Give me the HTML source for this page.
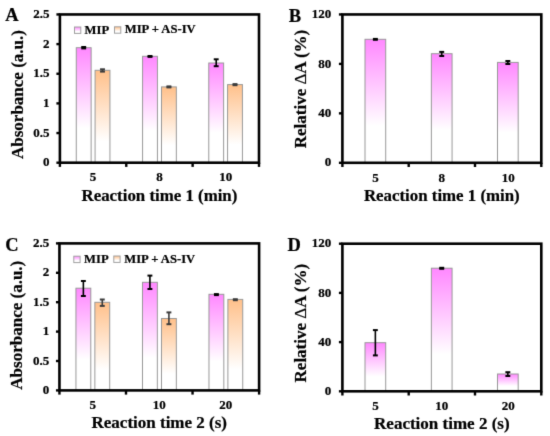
<!DOCTYPE html>
<html><head><meta charset="utf-8"><style>
html,body{margin:0;padding:0;background:#fff;}
svg{display:block;}
#w{width:550px;height:436px;overflow:hidden;will-change:transform;}
text{stroke:#000;stroke-width:0.22px;font-family:'Liberation Serif', serif;font-weight:bold;fill:#000;}
</style></head><body><div id="w">
<svg width="550" height="436" viewBox="0 0 550 436">
<defs>
<filter id="bl" x="0" y="0" width="1" height="1" color-interpolation-filters="sRGB"><feConvolveMatrix order="3" kernelMatrix="0.01134 0.08382 0.01134 0.08382 0.61935 0.08382 0.01134 0.08382 0.01134" edgeMode="duplicate" preserveAlpha="false"/></filter>
<linearGradient id="gP" x1="0" y1="0" x2="0" y2="1"><stop offset="0" stop-color="#ff88ff"/><stop offset="0.7" stop-color="#ffffff"/></linearGradient>
<linearGradient id="gO" x1="0" y1="0" x2="0" y2="1"><stop offset="0" stop-color="#ffc08a"/><stop offset="0.77" stop-color="#ffffff"/></linearGradient>
<linearGradient id="gPL" x1="0" y1="0" x2="0" y2="1"><stop offset="0" stop-color="#ff88ff"/><stop offset="0.7" stop-color="#ffffff"/></linearGradient>
<linearGradient id="gOL" x1="0" y1="0" x2="0" y2="1"><stop offset="0" stop-color="#ffc08a"/><stop offset="0.7" stop-color="#ffffff"/></linearGradient>
</defs>
<g filter="url(#bl)"><rect x="0" y="0" width="550" height="436" fill="#fff"/>
<rect x="76.28" y="47.70" width="14.85" height="115.00" fill="url(#gP)" stroke="#999999" stroke-width="1"/>
<rect x="95.08" y="70.30" width="14.85" height="92.40" fill="url(#gO)" stroke="#999999" stroke-width="1"/>
<rect x="142.57" y="56.30" width="14.85" height="106.40" fill="url(#gP)" stroke="#999999" stroke-width="1"/>
<rect x="161.49" y="86.90" width="14.85" height="75.80" fill="url(#gO)" stroke="#999999" stroke-width="1"/>
<rect x="208.77" y="63.00" width="14.85" height="99.70" fill="url(#gP)" stroke="#999999" stroke-width="1"/>
<rect x="227.57" y="84.60" width="14.85" height="78.10" fill="url(#gO)" stroke="#999999" stroke-width="1"/>
<line x1="83.70" y1="47.00" x2="83.70" y2="48.40" stroke="#000" stroke-width="1.6"/>
<line x1="81.25" y1="47.00" x2="86.15" y2="47.00" stroke="#000" stroke-width="2.0"/>
<line x1="81.25" y1="48.40" x2="86.15" y2="48.40" stroke="#000" stroke-width="2.0"/>
<line x1="102.50" y1="69.30" x2="102.50" y2="71.60" stroke="#3c3c3c" stroke-width="1.6"/>
<line x1="100.05" y1="69.30" x2="104.95" y2="69.30" stroke="#3c3c3c" stroke-width="2.0"/>
<line x1="100.05" y1="71.60" x2="104.95" y2="71.60" stroke="#3c3c3c" stroke-width="2.0"/>
<line x1="150.00" y1="56.00" x2="150.00" y2="56.90" stroke="#000" stroke-width="1.6"/>
<line x1="147.55" y1="56.00" x2="152.45" y2="56.00" stroke="#000" stroke-width="2.0"/>
<line x1="147.55" y1="56.90" x2="152.45" y2="56.90" stroke="#000" stroke-width="2.0"/>
<line x1="168.92" y1="86.40" x2="168.92" y2="87.40" stroke="#3c3c3c" stroke-width="1.6"/>
<line x1="166.47" y1="86.40" x2="171.37" y2="86.40" stroke="#3c3c3c" stroke-width="2.0"/>
<line x1="166.47" y1="87.40" x2="171.37" y2="87.40" stroke="#3c3c3c" stroke-width="2.0"/>
<line x1="216.20" y1="59.30" x2="216.20" y2="66.20" stroke="#000" stroke-width="1.6"/>
<line x1="213.75" y1="59.30" x2="218.65" y2="59.30" stroke="#000" stroke-width="2.0"/>
<line x1="213.75" y1="66.20" x2="218.65" y2="66.20" stroke="#000" stroke-width="2.0"/>
<line x1="235.00" y1="84.10" x2="235.00" y2="85.20" stroke="#3c3c3c" stroke-width="1.6"/>
<line x1="232.55" y1="84.10" x2="237.45" y2="84.10" stroke="#3c3c3c" stroke-width="2.0"/>
<line x1="232.55" y1="85.20" x2="237.45" y2="85.20" stroke="#3c3c3c" stroke-width="2.0"/>
<rect x="59.90" y="14.45" width="199.10" height="148.25" fill="none" stroke="#000" stroke-width="2.6"/>
<line x1="56.40" y1="162.70" x2="59.90" y2="162.70" stroke="#000" stroke-width="2.4"/>
<text x="49.60" y="166.30" font-size="13" text-anchor="end" >0</text>
<line x1="56.40" y1="133.05" x2="59.90" y2="133.05" stroke="#000" stroke-width="2.4"/>
<text x="49.60" y="136.65" font-size="13" text-anchor="end" >0.5</text>
<line x1="56.40" y1="103.40" x2="59.90" y2="103.40" stroke="#000" stroke-width="2.4"/>
<text x="49.60" y="107.00" font-size="13" text-anchor="end" >1</text>
<line x1="56.40" y1="73.75" x2="59.90" y2="73.75" stroke="#000" stroke-width="2.4"/>
<text x="49.60" y="77.35" font-size="13" text-anchor="end" >1.5</text>
<line x1="56.40" y1="44.10" x2="59.90" y2="44.10" stroke="#000" stroke-width="2.4"/>
<text x="49.60" y="47.70" font-size="13" text-anchor="end" >2</text>
<line x1="56.40" y1="14.45" x2="59.90" y2="14.45" stroke="#000" stroke-width="2.4"/>
<text x="49.60" y="18.05" font-size="13" text-anchor="end" >2.5</text>
<line x1="59.90" y1="162.70" x2="59.90" y2="166.90" stroke="#000" stroke-width="2.4"/>
<line x1="126.27" y1="162.70" x2="126.27" y2="166.90" stroke="#000" stroke-width="2.4"/>
<line x1="192.63" y1="162.70" x2="192.63" y2="166.90" stroke="#000" stroke-width="2.4"/>
<line x1="259.00" y1="162.70" x2="259.00" y2="166.90" stroke="#000" stroke-width="2.4"/>
<text x="93.08" y="181.30" font-size="13" text-anchor="middle" >5</text>
<text x="159.45" y="181.30" font-size="13" text-anchor="middle" >8</text>
<text x="225.82" y="181.30" font-size="13" text-anchor="middle" >10</text>
<text x="159.45" y="200.70" font-size="16.85" text-anchor="middle" >Reaction time 1 (min)</text>
<text transform="translate(22.50,94.55) rotate(-90)" x="0" y="0" font-size="17" text-anchor="middle">Absorbance (a.u.)</text>
<text x="5.20" y="21.20" font-size="18.5" text-anchor="start" >A</text>
<rect x="74.50" y="27.00" width="6.3" height="6.4" fill="url(#gPL)" stroke="#a0a0a0" stroke-width="1"/>
<text x="84.60" y="33.50" font-size="12.6" text-anchor="start" >MIP</text>
<rect x="114.50" y="26.80" width="6.3" height="6.4" fill="url(#gOL)" stroke="#a0a0a0" stroke-width="1"/>
<text x="124.80" y="33.30" font-size="12.6" text-anchor="start" >MIP + AS-IV</text>
<rect x="365.01" y="39.30" width="20.70" height="123.50" fill="url(#gP)" stroke="#999999" stroke-width="1"/>
<rect x="431.37" y="53.70" width="20.70" height="109.10" fill="url(#gP)" stroke="#999999" stroke-width="1"/>
<rect x="497.49" y="62.40" width="20.70" height="100.40" fill="url(#gP)" stroke="#999999" stroke-width="1"/>
<line x1="375.36" y1="38.90" x2="375.36" y2="39.80" stroke="#000" stroke-width="1.6"/>
<line x1="372.91" y1="38.90" x2="377.81" y2="38.90" stroke="#000" stroke-width="2.0"/>
<line x1="372.91" y1="39.80" x2="377.81" y2="39.80" stroke="#000" stroke-width="2.0"/>
<line x1="441.72" y1="51.90" x2="441.72" y2="56.00" stroke="#000" stroke-width="1.6"/>
<line x1="439.27" y1="51.90" x2="444.17" y2="51.90" stroke="#000" stroke-width="2.0"/>
<line x1="439.27" y1="56.00" x2="444.17" y2="56.00" stroke="#000" stroke-width="2.0"/>
<line x1="507.84" y1="61.00" x2="507.84" y2="64.00" stroke="#000" stroke-width="1.6"/>
<line x1="505.39" y1="61.00" x2="510.29" y2="61.00" stroke="#000" stroke-width="2.0"/>
<line x1="505.39" y1="64.00" x2="510.29" y2="64.00" stroke="#000" stroke-width="2.0"/>
<rect x="342.40" y="14.45" width="198.90" height="148.35" fill="none" stroke="#000" stroke-width="2.6"/>
<line x1="338.90" y1="162.80" x2="342.40" y2="162.80" stroke="#000" stroke-width="2.4"/>
<text x="331.20" y="166.40" font-size="13" text-anchor="end" >0</text>
<line x1="338.90" y1="113.35" x2="342.40" y2="113.35" stroke="#000" stroke-width="2.4"/>
<text x="331.20" y="116.95" font-size="13" text-anchor="end" >40</text>
<line x1="338.90" y1="63.90" x2="342.40" y2="63.90" stroke="#000" stroke-width="2.4"/>
<text x="331.20" y="67.50" font-size="13" text-anchor="end" >80</text>
<line x1="338.90" y1="14.45" x2="342.40" y2="14.45" stroke="#000" stroke-width="2.4"/>
<text x="331.20" y="18.05" font-size="13" text-anchor="end" >120</text>
<line x1="342.40" y1="162.80" x2="342.40" y2="167.00" stroke="#000" stroke-width="2.4"/>
<line x1="408.70" y1="162.80" x2="408.70" y2="167.00" stroke="#000" stroke-width="2.4"/>
<line x1="475.00" y1="162.80" x2="475.00" y2="167.00" stroke="#000" stroke-width="2.4"/>
<line x1="541.30" y1="162.80" x2="541.30" y2="167.00" stroke="#000" stroke-width="2.4"/>
<text x="375.55" y="181.80" font-size="13" text-anchor="middle" >5</text>
<text x="441.85" y="181.80" font-size="13" text-anchor="middle" >8</text>
<text x="508.15" y="181.80" font-size="13" text-anchor="middle" >10</text>
<text x="441.85" y="200.90" font-size="16.85" text-anchor="middle" >Reaction time 1 (min)</text>
<text transform="translate(305.60,89.00) rotate(-90)" x="0" y="0" font-size="17" text-anchor="middle">Relative <tspan font-weight="normal" stroke-width="0.2">Δ</tspan>A (%)</text>
<text x="288.80" y="22.20" font-size="18.5" text-anchor="start" >B</text>
<rect x="75.94" y="288.20" width="14.85" height="102.20" fill="url(#gP)" stroke="#999999" stroke-width="1"/>
<rect x="94.86" y="302.30" width="14.85" height="88.10" fill="url(#gO)" stroke="#999999" stroke-width="1"/>
<rect x="142.49" y="282.30" width="14.85" height="108.10" fill="url(#gP)" stroke="#999999" stroke-width="1"/>
<rect x="161.49" y="318.50" width="14.85" height="71.90" fill="url(#gO)" stroke="#999999" stroke-width="1"/>
<rect x="208.97" y="294.30" width="14.85" height="96.10" fill="url(#gP)" stroke="#999999" stroke-width="1"/>
<rect x="227.89" y="299.40" width="14.85" height="91.00" fill="url(#gO)" stroke="#999999" stroke-width="1"/>
<line x1="83.36" y1="281.00" x2="83.36" y2="296.00" stroke="#000" stroke-width="1.6"/>
<line x1="80.91" y1="281.00" x2="85.81" y2="281.00" stroke="#000" stroke-width="2.0"/>
<line x1="80.91" y1="296.00" x2="85.81" y2="296.00" stroke="#000" stroke-width="2.0"/>
<line x1="102.28" y1="299.50" x2="102.28" y2="305.90" stroke="#3c3c3c" stroke-width="1.6"/>
<line x1="99.83" y1="299.50" x2="104.73" y2="299.50" stroke="#3c3c3c" stroke-width="2.0"/>
<line x1="99.83" y1="305.90" x2="104.73" y2="305.90" stroke="#3c3c3c" stroke-width="2.0"/>
<line x1="149.92" y1="275.60" x2="149.92" y2="289.00" stroke="#000" stroke-width="1.6"/>
<line x1="147.47" y1="275.60" x2="152.37" y2="275.60" stroke="#000" stroke-width="2.0"/>
<line x1="147.47" y1="289.00" x2="152.37" y2="289.00" stroke="#000" stroke-width="2.0"/>
<line x1="168.92" y1="312.40" x2="168.92" y2="324.20" stroke="#3c3c3c" stroke-width="1.6"/>
<line x1="166.47" y1="312.40" x2="171.37" y2="312.40" stroke="#3c3c3c" stroke-width="2.0"/>
<line x1="166.47" y1="324.20" x2="171.37" y2="324.20" stroke="#3c3c3c" stroke-width="2.0"/>
<line x1="216.40" y1="294.10" x2="216.40" y2="295.10" stroke="#000" stroke-width="1.6"/>
<line x1="213.95" y1="294.10" x2="218.85" y2="294.10" stroke="#000" stroke-width="2.0"/>
<line x1="213.95" y1="295.10" x2="218.85" y2="295.10" stroke="#000" stroke-width="2.0"/>
<line x1="235.32" y1="299.20" x2="235.32" y2="300.20" stroke="#3c3c3c" stroke-width="1.6"/>
<line x1="232.87" y1="299.20" x2="237.77" y2="299.20" stroke="#3c3c3c" stroke-width="2.0"/>
<line x1="232.87" y1="300.20" x2="237.77" y2="300.20" stroke="#3c3c3c" stroke-width="2.0"/>
<rect x="59.45" y="243.40" width="199.65" height="147.00" fill="none" stroke="#000" stroke-width="2.6"/>
<line x1="55.95" y1="390.40" x2="59.45" y2="390.40" stroke="#000" stroke-width="2.4"/>
<text x="49.30" y="394.00" font-size="13" text-anchor="end" >0</text>
<line x1="55.95" y1="361.00" x2="59.45" y2="361.00" stroke="#000" stroke-width="2.4"/>
<text x="49.30" y="364.60" font-size="13" text-anchor="end" >0.5</text>
<line x1="55.95" y1="331.60" x2="59.45" y2="331.60" stroke="#000" stroke-width="2.4"/>
<text x="49.30" y="335.20" font-size="13" text-anchor="end" >1</text>
<line x1="55.95" y1="302.20" x2="59.45" y2="302.20" stroke="#000" stroke-width="2.4"/>
<text x="49.30" y="305.80" font-size="13" text-anchor="end" >1.5</text>
<line x1="55.95" y1="272.80" x2="59.45" y2="272.80" stroke="#000" stroke-width="2.4"/>
<text x="49.30" y="276.40" font-size="13" text-anchor="end" >2</text>
<line x1="55.95" y1="243.40" x2="59.45" y2="243.40" stroke="#000" stroke-width="2.4"/>
<text x="49.30" y="247.00" font-size="13" text-anchor="end" >2.5</text>
<line x1="59.45" y1="390.40" x2="59.45" y2="394.60" stroke="#000" stroke-width="2.4"/>
<line x1="126.00" y1="390.40" x2="126.00" y2="394.60" stroke="#000" stroke-width="2.4"/>
<line x1="192.55" y1="390.40" x2="192.55" y2="394.60" stroke="#000" stroke-width="2.4"/>
<line x1="259.10" y1="390.40" x2="259.10" y2="394.60" stroke="#000" stroke-width="2.4"/>
<text x="92.73" y="409.10" font-size="13" text-anchor="middle" >5</text>
<text x="159.28" y="409.10" font-size="13" text-anchor="middle" >10</text>
<text x="225.83" y="409.10" font-size="13" text-anchor="middle" >20</text>
<text x="159.28" y="428.00" font-size="17" text-anchor="middle" >Reaction time 2 (s)</text>
<text transform="translate(21.60,325.20) rotate(-90)" x="0" y="0" font-size="17" text-anchor="middle">Absorbance (a.u.)</text>
<text x="5.20" y="250.80" font-size="18.5" text-anchor="start" >C</text>
<rect x="73.80" y="256.20" width="6.3" height="6.4" fill="url(#gPL)" stroke="#a0a0a0" stroke-width="1"/>
<text x="84.10" y="262.70" font-size="12.6" text-anchor="start" >MIP</text>
<rect x="113.80" y="256.00" width="6.3" height="6.4" fill="url(#gOL)" stroke="#a0a0a0" stroke-width="1"/>
<text x="124.30" y="262.50" font-size="12.6" text-anchor="start" >MIP + AS-IV</text>
<rect x="365.01" y="342.70" width="20.70" height="48.60" fill="url(#gP)" stroke="#999999" stroke-width="1"/>
<rect x="431.37" y="268.20" width="20.70" height="123.10" fill="url(#gP)" stroke="#999999" stroke-width="1"/>
<rect x="497.49" y="374.00" width="20.70" height="17.30" fill="url(#gP)" stroke="#999999" stroke-width="1"/>
<line x1="375.36" y1="330.10" x2="375.36" y2="355.40" stroke="#000" stroke-width="1.6"/>
<line x1="372.91" y1="330.10" x2="377.81" y2="330.10" stroke="#000" stroke-width="2.0"/>
<line x1="372.91" y1="355.40" x2="377.81" y2="355.40" stroke="#000" stroke-width="2.0"/>
<line x1="441.72" y1="267.80" x2="441.72" y2="268.80" stroke="#000" stroke-width="1.6"/>
<line x1="439.27" y1="267.80" x2="444.17" y2="267.80" stroke="#000" stroke-width="2.0"/>
<line x1="439.27" y1="268.80" x2="444.17" y2="268.80" stroke="#000" stroke-width="2.0"/>
<line x1="507.84" y1="372.20" x2="507.84" y2="376.00" stroke="#000" stroke-width="1.6"/>
<line x1="505.39" y1="372.20" x2="510.29" y2="372.20" stroke="#000" stroke-width="2.0"/>
<line x1="505.39" y1="376.00" x2="510.29" y2="376.00" stroke="#000" stroke-width="2.0"/>
<rect x="342.40" y="243.70" width="198.90" height="147.60" fill="none" stroke="#000" stroke-width="2.6"/>
<line x1="338.90" y1="391.30" x2="342.40" y2="391.30" stroke="#000" stroke-width="2.4"/>
<text x="331.20" y="394.90" font-size="13" text-anchor="end" >0</text>
<line x1="338.90" y1="342.10" x2="342.40" y2="342.10" stroke="#000" stroke-width="2.4"/>
<text x="331.20" y="345.70" font-size="13" text-anchor="end" >40</text>
<line x1="338.90" y1="292.90" x2="342.40" y2="292.90" stroke="#000" stroke-width="2.4"/>
<text x="331.20" y="296.50" font-size="13" text-anchor="end" >80</text>
<line x1="338.90" y1="243.70" x2="342.40" y2="243.70" stroke="#000" stroke-width="2.4"/>
<text x="331.20" y="247.30" font-size="13" text-anchor="end" >120</text>
<line x1="342.40" y1="391.30" x2="342.40" y2="395.50" stroke="#000" stroke-width="2.4"/>
<line x1="408.70" y1="391.30" x2="408.70" y2="395.50" stroke="#000" stroke-width="2.4"/>
<line x1="475.00" y1="391.30" x2="475.00" y2="395.50" stroke="#000" stroke-width="2.4"/>
<line x1="541.30" y1="391.30" x2="541.30" y2="395.50" stroke="#000" stroke-width="2.4"/>
<text x="375.55" y="410.10" font-size="13" text-anchor="middle" >5</text>
<text x="441.85" y="410.10" font-size="13" text-anchor="middle" >10</text>
<text x="508.15" y="410.10" font-size="13" text-anchor="middle" >20</text>
<text x="441.85" y="429.10" font-size="17" text-anchor="middle" >Reaction time 2 (s)</text>
<text transform="translate(306.10,323.15) rotate(-90)" x="0" y="0" font-size="17" text-anchor="middle">Relative <tspan font-weight="normal" stroke-width="0.2">Δ</tspan>A (%)</text>
<text x="287.40" y="250.80" font-size="18.5" text-anchor="start" >D</text>
</g></svg></div>
</body></html>
